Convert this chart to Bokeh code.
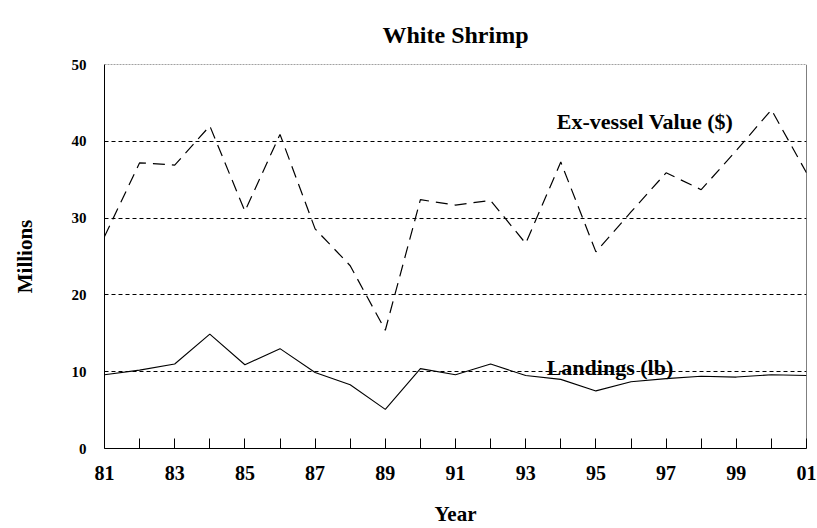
from bokeh.plotting import figure
from bokeh.models import Range1d, FixedTicker, Span, Label
from bokeh.embed import file_html
from bokeh.resources import INLINE

years = list(range(1981, 2002))
ex_vessel_value = [27.6, 37.2, 36.9, 42.0, 30.9, 40.9, 28.6, 23.8, 15.4, 32.4, 31.7,
                   32.3, 26.7, 37.3, 25.6, 30.8, 35.9, 33.7, 38.8, 44.1, 35.9]
landings = [9.6, 10.2, 11.0, 14.9, 10.9, 13.0, 9.9, 8.3, 5.1, 10.4, 9.6,
            11.0, 9.5, 9.0, 7.5, 8.7, 9.1, 9.4, 9.3, 9.6, 9.5]
major_years = list(range(1981, 2002, 2))
minor_years = list(range(1982, 2002, 2))
x_labels = {y: f"{y % 100:02d}" for y in major_years}
y_ticks = [0, 10, 20, 30, 40, 50]
grid_levels = [10, 20, 30, 40]

FONT = "Liberation Serif"

p = figure(width=817, height=528, output_backend="svg", toolbar_location=None,
           x_range=Range1d(1981, 2001), y_range=Range1d(0, 50),
           min_border_left=104, min_border_right=11, min_border_top=64, min_border_bottom=75,
           title="White Shrimp")
p.title.align = "center"
p.title.vertical_align = "top"
p.title.text_font = FONT
p.title.text_font_size = "24px"
p.title.text_font_style = "bold"
p.title.text_color = "black"
p.title.standoff = 30
p.outline_line_color = None
p.background_fill_color = "white"

xa = p.xaxis[0]
xa.ticker = FixedTicker(ticks=major_years, minor_ticks=minor_years)
xa.major_label_overrides = x_labels
xa.major_tick_in = 10
xa.major_tick_out = 0
xa.minor_tick_in = 10
xa.minor_tick_out = 0
xa.major_tick_line_color = "black"
xa.minor_tick_line_color = "black"
xa.axis_line_color = "black"
xa.major_label_text_font = FONT
xa.major_label_text_font_style = "bold"
xa.major_label_text_font_size = "20px"
xa.major_label_text_color = "black"
xa.major_label_standoff = 17
xa.axis_label = "Year"
xa.axis_label_text_font = FONT
xa.axis_label_text_font_style = "bold"
xa.axis_label_text_font_size = "21px"
xa.axis_label_text_color = "black"
xa.axis_label_standoff = 19

ya = p.yaxis[0]
ya.ticker = FixedTicker(ticks=y_ticks)
ya.major_tick_in = 0
ya.major_tick_out = 0
ya.minor_tick_in = 0
ya.minor_tick_out = 0
ya.axis_line_color = "black"
ya.major_label_text_font = FONT
ya.major_label_text_font_style = "bold"
ya.major_label_text_font_size = "15px"
ya.major_label_text_color = "black"
ya.major_label_standoff = 18
ya.axis_label = "Millions"
ya.axis_label_text_font = FONT
ya.axis_label_text_font_style = "bold"
ya.axis_label_text_font_size = "21px"
ya.axis_label_text_color = "black"
ya.axis_label_standoff = 32

p.xgrid.grid_line_color = None
p.ygrid.ticker = FixedTicker(ticks=grid_levels)
p.ygrid.grid_line_color = "black"
p.ygrid.grid_line_dash = "4 3"
p.ygrid.grid_line_width = 1

p.add_layout(Span(location=50, dimension="width", line_color="#444444",
                  line_dash="2 1", line_width=1))
p.add_layout(Span(location=2001, dimension="height", line_color="black", line_width=1))

p.line(years, ex_vessel_value, line_color="black", line_width=1.2, line_dash="12 7")
p.line(years, landings, line_color="black", line_width=1.1)

p.add_layout(Label(x=1996.4, y=42.6, text="Ex-vessel Value ($)", text_align="center",
                   text_baseline="middle", text_font=FONT, text_font_style="bold",
                   text_font_size="22px", text_color="black"))
p.add_layout(Label(x=1995.4, y=10.6, text="Landings (lb)", text_align="center",
                   text_baseline="middle", text_font=FONT, text_font_style="bold",
                   text_font_size="22px", text_color="black"))

open("out.html", "w").write(file_html(p, INLINE))
